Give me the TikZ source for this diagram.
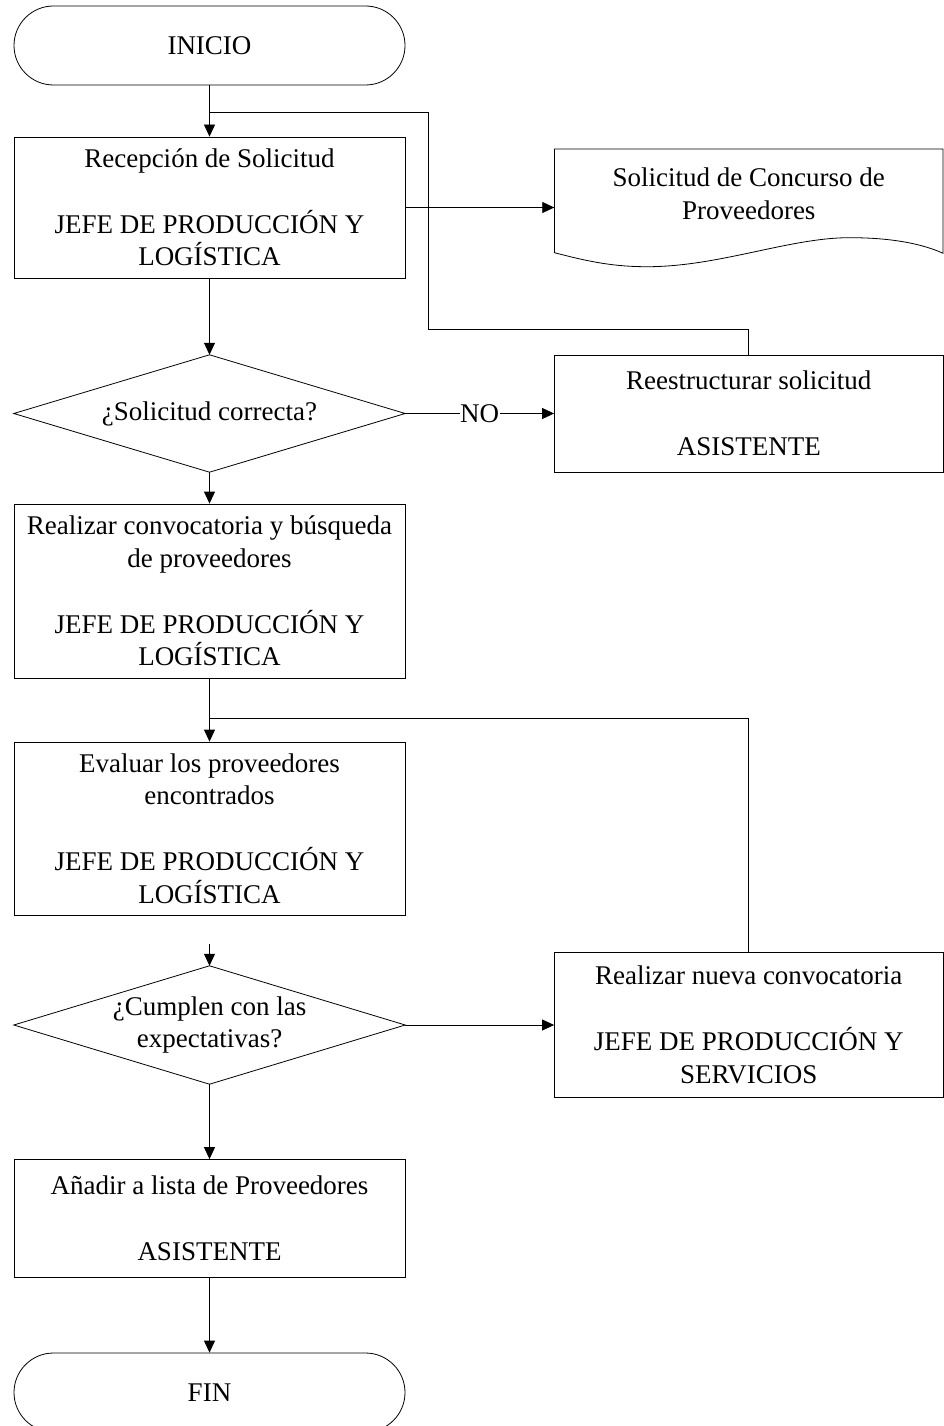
\documentclass[tikz,border=0pt]{standalone}
\usepackage{fontspec}
\setmainfont{Liberation Serif}
\usetikzlibrary{arrows.meta}
\begin{document}
\begin{tikzpicture}[x=1pt,y=-1pt,
  every node/.style={font=\fontsize{27}{32.7}\selectfont, align=center, inner sep=0pt},
  box/.style={draw, line width=0.8pt, rectangle, minimum width=391pt},
  rbox/.style={draw, line width=0.8pt, rectangle, minimum width=388.5pt},
  term/.style={draw, line width=0.8pt, rectangle, rounded corners=39.5pt, minimum width=391pt, minimum height=79pt},
  decbox/.style={rectangle, minimum width=391pt},
  conn/.style={line width=0.8pt},
  arr/.style={conn, -{Triangle[length=12pt,width=11pt]}},
  lbl/.style={fill=white, inner sep=0.5pt}
]
\useasboundingbox (0,0) rectangle (944,1426);

% nodes
\node[term] (inicio) at (209.5,45.5) {INICIO};
\node[box, minimum height=141pt] (recep) at (209.5,207.5) {Recepción de Solicitud\\[33pt]JEFE DE PRODUCCIÓN Y\\LOGÍSTICA};
\node[rectangle, minimum width=388.5pt] (doc) at (748.75,193.5) {Solicitud de Concurso de\\Proveedores};
\draw[conn] (554.5,149) -- (943,149) -- (943,253.3)
  .. controls (925,245) and (895,237.5) .. (848,237.7)
  .. controls (790,238) and (720,266) .. (650,266.7)
  .. controls (615,267) and (590,262) .. (554.5,252.7) -- cycle;

\node[decbox, minimum height=117pt] (d1) at (209.5,413.5) {¿Solicitud correcta?};
\draw[conn] (d1.north) -- (d1.east) -- (d1.south) -- (d1.west) -- cycle;
\node[rbox, minimum height=117pt] (reest) at (748.75,413.5) {Reestructurar solicitud\\[33pt]ASISTENTE};

\node[box, minimum height=174pt] (conv) at (209.5,591) {Realizar convocatoria y búsqueda\\de proveedores\\[33pt]JEFE DE PRODUCCIÓN Y\\LOGÍSTICA};
\node[box, minimum height=173pt] (eval) at (209.5,828.5) {Evaluar los proveedores\\encontrados\\[33pt]JEFE DE PRODUCCIÓN Y\\LOGÍSTICA};

\node[decbox, minimum height=118pt] (d2) at (209.5,1025) {¿Cumplen con las\\expectativas?};
\draw[conn] (d2.north) -- (d2.east) -- (d2.south) -- (d2.west) -- cycle;
\node[rbox, minimum height=145pt] (nueva) at (748.75,1025) {Realizar nueva convocatoria\\[33pt]JEFE DE PRODUCCIÓN Y\\SERVICIOS};

\node[box, minimum height=118pt] (anadir) at (209.5,1218.5) {Añadir a lista de Proveedores\\[33pt]ASISTENTE};
\node[term] (fin) at (209.5,1392.5) {FIN};

% junction points
\coordinate (j1) at (209.5,112);
\coordinate (k1) at (428.5,329.5);
\coordinate (j2) at (209.5,718);
\coordinate (s2) at (209.5,944);

% connectors
\draw[arr] (inicio.south) -- (recep.north);
\draw[conn] (reest.north) |- (k1) |- (j1);
\draw[arr] (recep.east) -- (recep.east -| doc.west);
\draw[arr] (recep.south) -- (d1.north);
\draw[arr] (d1.east) -- node[lbl] {NO} (reest.west);
\draw[arr] (d1.south) -- (conv.north);
\draw[arr] (conv.south) -- (eval.north);
\draw[conn] (nueva.north) |- (j2);
\draw[arr] (s2) -- (d2.north);
\draw[arr] (d2.east) -- (nueva.west);
\draw[arr] (d2.south) -- (anadir.north);
\draw[arr] (anadir.south) -- (fin.north);
\end{tikzpicture}
\end{document}
